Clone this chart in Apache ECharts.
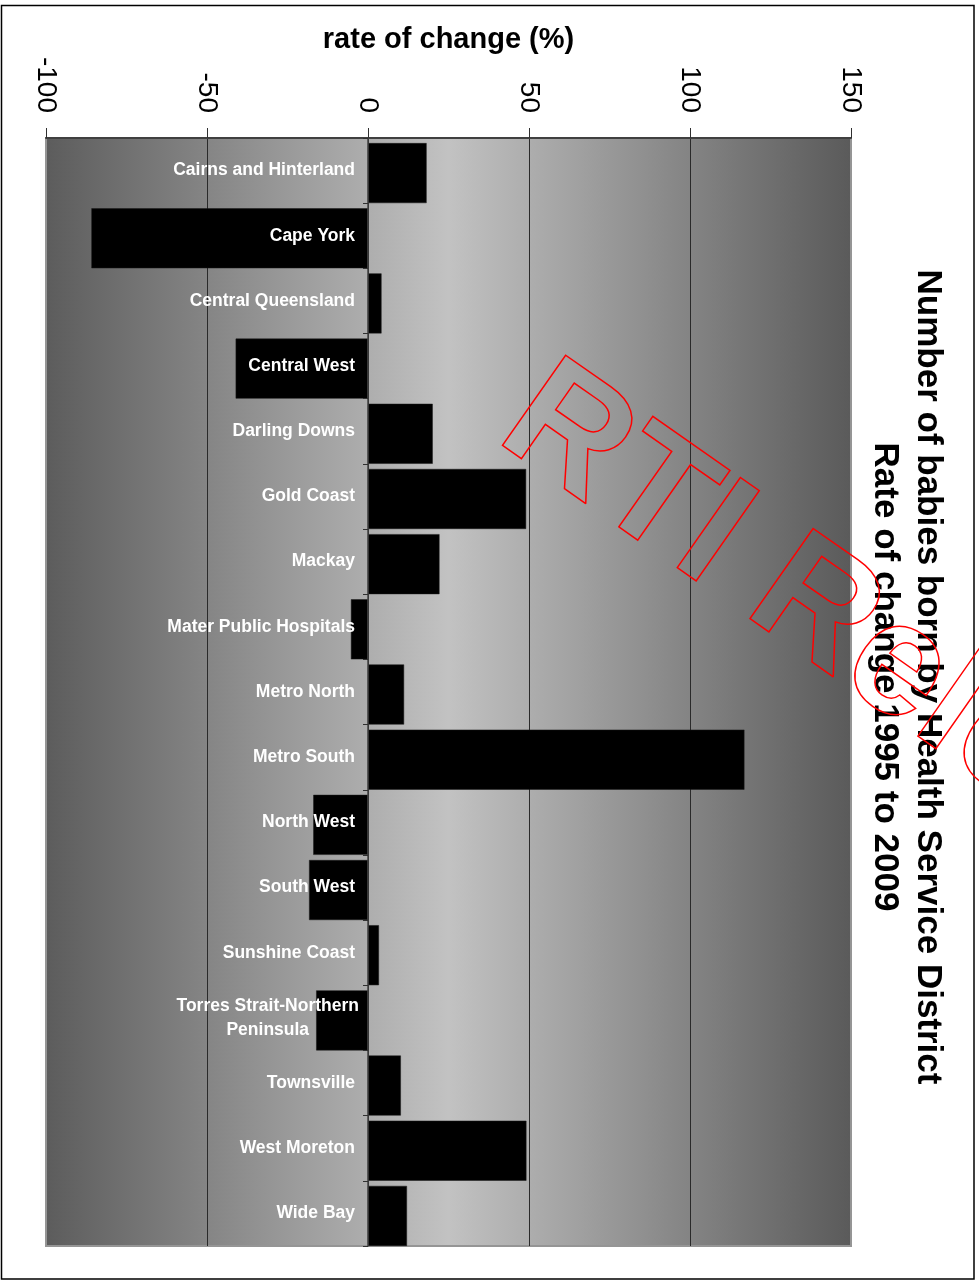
<!DOCTYPE html>
<html>
<head>
<meta charset="utf-8">
<title>Number of babies born by Health Service District</title>
<script src="https://cdn.jsdelivr.net/npm/echarts@6/dist/echarts.min.js"></script>
<style>
  html, body { margin: 0; padding: 0; background: #ffffff; }
  #chart { width: 979px; height: 1284px; }
</style>
</head>
<body>
<div id="chart"></div>
<script>
// Health Service Districts, top to bottom
var districts = [
  'Cairns and Hinterland', 'Cape York', 'Central Queensland', 'Central West',
  'Darling Downs', 'Gold Coast', 'Mackay', 'Mater Public Hospitals',
  'Metro North', 'Metro South', 'North West', 'South West',
  'Sunshine Coast', 'Torres Strait-Northern Peninsula', 'Townsville',
  'West Moreton', 'Wide Bay'
];

// Rate of change (%) in births, 1995 to 2009
var rateOfChange = [
  18.2, -85.9, 4.2, -41.1,
  20.1, 49.1, 22.2, -5.3,
  11.2, 116.9, -17.0, -18.3,
  3.4, -16.1, 10.2,
  49.2, 12.1
];

// Value axis range and tick step
var axisMin = -100;
var axisMax = 150;
var axisStep = 50;

var titleLines = [
  'Number of babies born by Health Service District',
  'Rate of change 1995 to 2009'
];
var axisTitle = 'rate of change (%)';
var stampText = 'RTI Release';

// long district names that wrap onto a second line
var wrappedNames = {
  'Torres Strait-Northern Peninsula': ['Torres Strait-Northern', 'Peninsula']
};

var FONT = '"Liberation Sans", Arial, Helvetica, sans-serif';
var LABEL_FONT = 'bold 17.5px ' + FONT;

var chart = echarts.init(document.getElementById('chart'), null, { renderer: 'canvas' });

var plotBackground = new echarts.graphic.LinearGradient(0, 0, 1, 0, [
  { offset: 0, color: '#5c5c5c' },
  { offset: 0.5, color: '#c2c2c2' },
  { offset: 1, color: '#5a5a5a' }
]);

// District names sit just left of the zero line, over the bars
function renderDistrictLabel(params, api) {
  var pt = api.coord([0, api.value(1)]);
  var name = districts[params.dataIndex];
  var style = {
    fill: '#ffffff',
    font: LABEL_FONT,
    align: 'right',
    verticalAlign: 'middle'
  };
  var dx = -13;
  if (wrappedNames[name]) {
    // wrapped names are centred line by line
    style.text = wrappedNames[name].map(function (line) {
      return '{w|' + line + '}';
    }).join('\n');
    style.rich = {
      w: { align: 'center', fill: '#ffffff', font: LABEL_FONT, lineHeight: 24 }
    };
    dx = -9;
  } else {
    style.text = name;
  }
  return { type: 'text', x: pt[0] + dx, y: pt[1], style: style };
}

var option = {
  backgroundColor: '#ffffff',
  animation: false,
  grid: {
    left: 46,
    right: 128,
    top: 138,
    bottom: 38,
    containLabel: false,
    outerBoundsMode: 'none',
    show: true,
    backgroundColor: plotBackground,
    borderColor: '#959595',
    borderWidth: 2
  },
  xAxis: {
    type: 'value',
    position: 'top',
    min: axisMin,
    max: axisMax,
    interval: axisStep,
    name: axisTitle,
    nameLocation: 'middle',
    nameGap: 84,
    nameMoveOverlap: false,
    nameTextStyle: {
      fontFamily: FONT,
      fontSize: 29,
      fontWeight: 'bold',
      color: '#000000'
    },
    axisLine: { show: true, lineStyle: { color: '#404040', width: 2 } },
    axisTick: { show: true, length: 10, lineStyle: { color: '#303030', width: 1 } },
    axisLabel: {
      rotate: 90,
      margin: 25,
      fontFamily: FONT,
      fontSize: 28,
      color: '#000000'
    },
    splitLine: {
      show: true,
      showMinLine: false,
      showMaxLine: false,
      lineStyle: { color: '#2a2a2a', width: 1 }
    }
  },
  yAxis: {
    type: 'category',
    data: districts,
    inverse: true,
    z: 3,
    axisLine: { show: true, onZero: true, lineStyle: { color: '#404040', width: 1.5 } },
    axisTick: { show: true, length: 5, alignWithLabel: false, lineStyle: { color: '#303030', width: 1 } },
    splitLine: { show: false },
    axisLabel: { show: false }
  },
  series: [
    {
      // empty slot that leaves the gap above each bar
      type: 'bar',
      data: [],
      barWidth: 5,
      barGap: 0,
      silent: true
    },
    {
      type: 'bar',
      data: rateOfChange,
      barWidth: 60,
      barGap: 0,
      itemStyle: { color: '#000000', borderColor: '#1a1a1a', borderWidth: 0.5 }
    },
    {
      type: 'custom',
      coordinateSystem: 'cartesian2d',
      data: districts.map(function (name) { return [0, name]; }),
      encode: { x: 0, y: 1 },
      renderItem: renderDistrictLabel,
      silent: true,
      z: 5
    }
  ],
  graphic: [
    {
      // page frame
      type: 'rect',
      shape: { x: 1.5, y: 5.5, width: 972.5, height: 1273.5 },
      style: { fill: 'none', stroke: '#000000', lineWidth: 1.5 },
      z: 100
    },
    {
      // chart title, set sideways along the right edge
      type: 'text',
      x: 906,
      y: 677,
      rotation: -Math.PI / 2,
      style: {
        text: titleLines.join('\n'),
        font: 'bold 35px ' + FONT,
        fill: '#000000',
        align: 'center',
        verticalAlign: 'middle',
        lineHeight: 43
      },
      z: 100
    },
    {
      // red outlined release stamp
      type: 'text',
      x: 519,
      y: 403,
      rotation: -35 * Math.PI / 180,
      style: {
        text: stampText,
        font: 'bold 160px ' + FONT,
        fill: 'none',
        stroke: '#ff0000',
        lineWidth: 1.5,
        align: 'left',
        verticalAlign: 'middle'
      },
      z: 101
    }
  ]
};

chart.setOption(option);
</script>
</body>
</html>
